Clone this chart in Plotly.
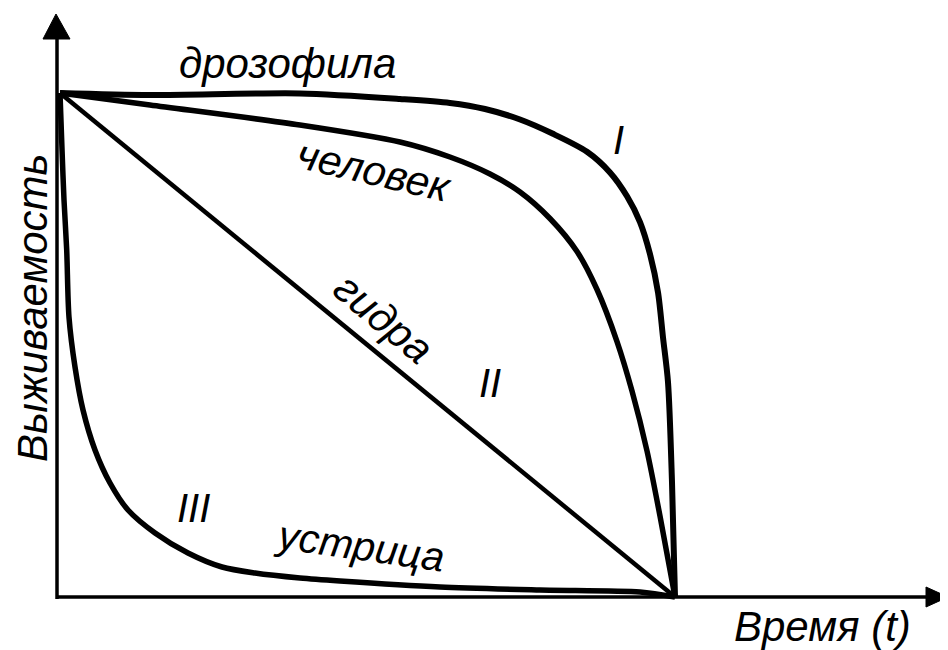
import plotly.graph_objects as go

# ---- data (time in % of max lifespan, survival in %) ----
drosophila_t = [0, 14.63, 39.02, 55.28, 63.41, 69.11, 74.80, 80.16, 85.69, 89.43, 92.20, 94.31, 95.93, 97.24, 98.05, 98.86, 99.51, 100]
drosophila_s = [100, 99.6, 99.9, 98.81, 98.02, 96.83, 94.74, 91.90, 88.35, 84.25, 79.52, 74.40, 68.06, 60.42, 51.49, 42.66, 22.82, 0]

human_t = [0, 14.63, 39.02, 55.28, 63.41, 69.92, 74.80, 79.67, 84.07, 87.32, 90.57, 93.01, 95.45, 97.56, 100]
human_s = [100, 97.62, 93.65, 90.28, 87.30, 83.93, 80.36, 75.10, 68.55, 61.01, 50.69, 40.87, 28.97, 16.07, 0]

hydra_t = [0, 100]
hydra_s = [100, 0]

oyster_t = [0, 0.33, 0.65, 1.09, 1.46, 2.44, 3.74, 5.69, 8.13, 11.06, 15.45, 20.81, 26.34, 31.71, 39.02, 45.53, 61.79, 78.05, 94.31, 100]
oyster_s = [100, 88.69, 78.77, 68.85, 55.56, 45.63, 37.10, 29.17, 22.62, 17.26, 12.70, 8.73, 5.95, 4.76, 3.77, 3.17, 1.98, 1.39, 0.99, 0]

curve_names = ["дрозофила", "человек", "гидра", "устрица"]
type_labels = ["I", "II", "III"]
x_title = "Время (t)"
y_title = "Выживаемость"

# page-pixel -> data mapping (layout only); page has an 8px body margin
PX_X = 6.15
PX_Y = 5.04
X0_PX = 60
Y0_PX = 597
PAGE_OFF = 8
def dx(px):
    return (px - X0_PX) / PX_X
def dy(py):
    return (Y0_PX - py) / PX_Y

fig = go.Figure()
def curve(t, s, name, width, spline=True):
    ln = dict(color="black", width=width)
    if spline:
        ln.update(shape="spline", smoothing=0.8)
    fig.add_trace(go.Scatter(x=t, y=s, name=name, mode="lines", line=ln,
                             hoverinfo="skip", showlegend=False))

curve(drosophila_t, drosophila_s, curve_names[0], 6)
curve(human_t, human_s, curve_names[1], 5.5)
curve(hydra_t, hydra_s, curve_names[2], 4.5, spline=False)
curve(oyster_t, oyster_s, curve_names[3], 5.5)

# axes with arrows
ax_x = dx(57)
fig.add_shape(type="line", x0=ax_x, y0=dy(599), x1=ax_x, y1=dy(36), line=dict(color="black", width=3.5))
fig.add_shape(type="line", x0=ax_x, y0=dy(597), x1=dx(930), y1=dy(597), line=dict(color="black", width=3.5))
fig.add_shape(type="path",
              path=f"M {dx(56)} {dy(14)} L {dx(43)} {dy(39)} L {dx(70)} {dy(39)} Z",
              fillcolor="black", line=dict(color="black", width=1))
fig.add_shape(type="path",
              path=f"M {dx(948)} {dy(597)} L {dx(926)} {dy(587)} L {dx(926)} {dy(607)} Z",
              fillcolor="black", line=dict(color="black", width=1))

FONT = "Liberation Sans, Arial, sans-serif"
def label(text, px, py, size, angle=0):
    fig.add_annotation(x=dx(px), y=dy(py), text=f"<i>{text}</i>", showarrow=False,
                       textangle=angle, font=dict(family=FONT, size=size, color="black"),
                       xanchor="center", yanchor="middle", borderpad=0)

label(curve_names[0], 287, 63, 42)
label(curve_names[1], 374, 170, 42, 13)
label(curve_names[2], 384, 318, 42, 40)
label(curve_names[3], 360, 546, 41, 8)
label(type_labels[0], 618, 140, 40)
label(type_labels[1], 490, 383, 40)
label(type_labels[2], 193, 508, 40)
label(x_title, 822, 626, 42)
label(y_title, 32, 308, 42, -90)

fig.update_layout(
    width=948 - PAGE_OFF, height=650 - PAGE_OFF,
    margin=dict(l=0, r=0, t=0, b=0),
    paper_bgcolor="white", plot_bgcolor="white",
    xaxis=dict(range=[dx(PAGE_OFF), dx(948)], visible=False, fixedrange=True),
    yaxis=dict(range=[dy(650), dy(PAGE_OFF)], visible=False, fixedrange=True),
)
fig.write_html("out.html")
